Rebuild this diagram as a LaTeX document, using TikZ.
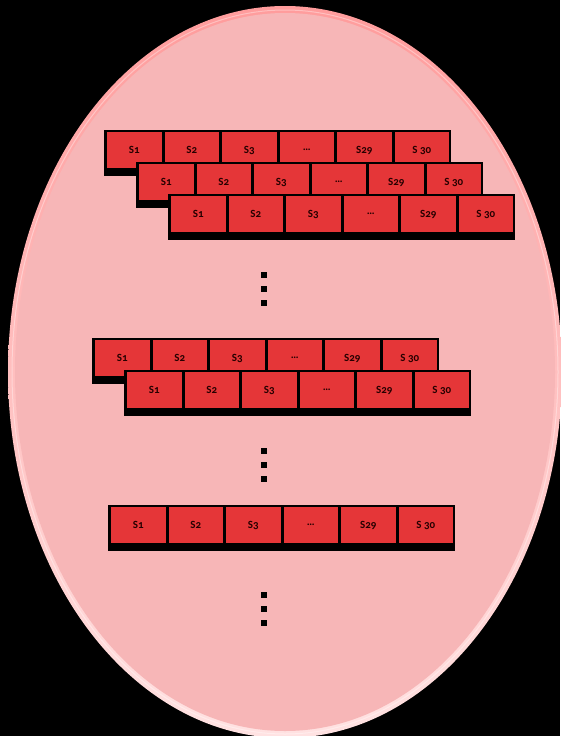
\documentclass[tikz,border=0pt]{standalone}
\usepackage{fontspec}
\setmainfont{Carlito}[Numbers=OldStyle]
\definecolor{cellred}{HTML}{E53638}
\definecolor{ovalfill}{HTML}{F7B6B7}
\definecolor{rimtop}{HTML}{FF9C9C}
\definecolor{rimbot}{HTML}{FFE2E2}
\tikzset{
  cell/.style={fill=cellred, minimum width=54.5pt, minimum height=36pt, inner sep=0pt,
    font=\fontsize{11}{11}\selectfont\bfseries, text=black!85!red},
  dotmark/.style={fill=black, minimum size=6pt, inner sep=0pt},
}
\newcommand{\cellrow}[3]{% name, x0, y0
  \fill[black] (#2,#3) rectangle ++(347,46);
  \foreach \lab [count=\i from 0] in {S1,S2,S3,{\ldots},S29,{S 30}}{
    \node[cell] (#1-\i) at ({#2+3+57.5*\i+27.25},{#3+20}) {\lab};
  }
}
\begin{document}
\begin{tikzpicture}[x=1pt,y=-1pt]
\useasboundingbox (0,0) rectangle (560,736);
\fill[black] (0,0) rectangle (560,736);
\shade[top color=rimtop, bottom color=rimbot] (285,372) ellipse [x radius=277, y radius=366];
\draw[white, opacity=0.35, line width=1pt] (285,372) ellipse [x radius=273, y radius=362];
\fill[ovalfill] (285,372) ellipse [x radius=270, y radius=359];
\cellrow{a}{104}{130}
\cellrow{b}{136}{162}
\cellrow{c}{168}{194}
\node[dotmark] (d1) at (264,275) {};
\node[dotmark] (d2) at (264,289) {};
\node[dotmark] (d3) at (264,303) {};
\cellrow{e}{92}{338}
\cellrow{f}{124}{370}
\node[dotmark] (d4) at (264,451) {};
\node[dotmark] (d5) at (264,465) {};
\node[dotmark] (d6) at (264,479) {};
\cellrow{g}{108}{505}
\node[dotmark] (d7) at (264,595) {};
\node[dotmark] (d8) at (264,609) {};
\node[dotmark] (d9) at (264,623) {};
\end{tikzpicture}
\end{document}
